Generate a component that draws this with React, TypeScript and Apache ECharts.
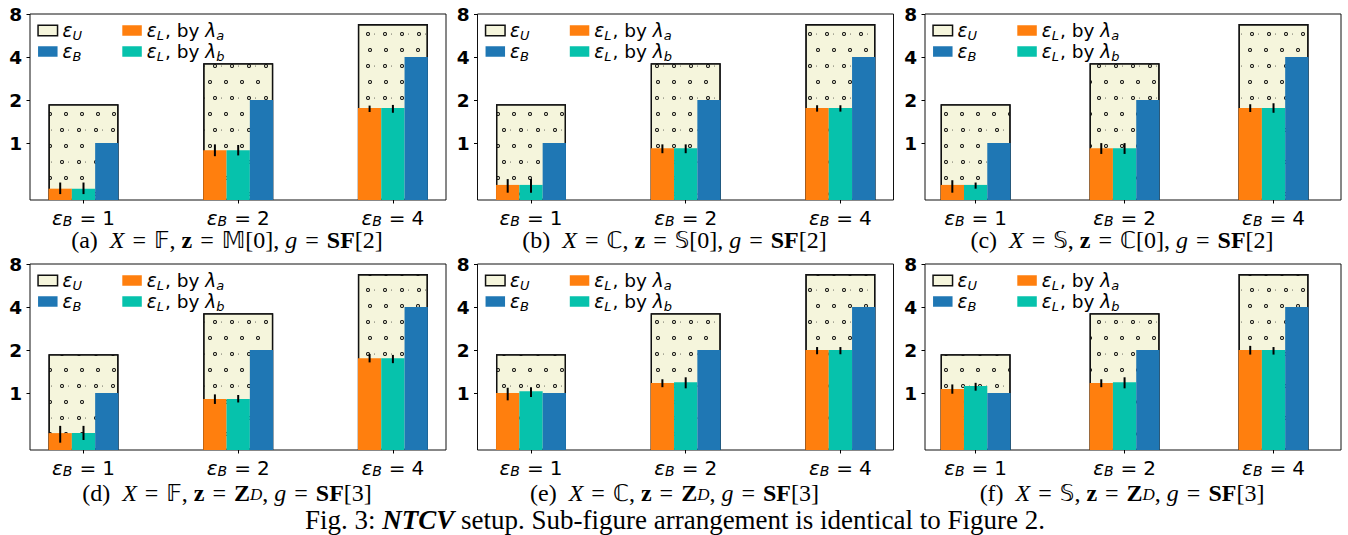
import React, { useEffect, useRef } from 'react';
import * as echarts from 'echarts';

// ---------------- data ----------------
const categories = ['1', '2', '4'];
const yTickValues = [1, 2, 4, 8];
const epsU = [1.87, 3.62, 6.8];
const epsB = [1, 2, 4];

const lamA_a = [0.48, 0.89, 1.76];
const lamB_a = [0.48, 0.89, 1.76];
const errA_a = [[0.44, 0.53], [0.81, 0.98], [1.65, 1.83]];
const errB_a = [[0.44, 0.53], [0.82, 0.97], [1.63, 1.85]];

const lamA_b = [0.51, 0.92, 1.76];
const lamB_b = [0.51, 0.92, 1.76];
const errA_b = [[0.45, 0.56], [0.85, 0.98], [1.66, 1.84]];
const errB_b = [[0.45, 0.56], [0.85, 0.98], [1.66, 1.84]];

const lamA_c = [0.51, 0.92, 1.76];
const lamB_c = [0.51, 0.92, 1.76];
const errA_c = [[0.45, 0.55], [0.84, 1.0], [1.65, 1.87]];
const errB_c = [[0.48, 0.53], [0.84, 1.0], [1.63, 1.9]];

const lamA_d = [0.525, 0.91, 1.75];
const lamB_d = [0.525, 0.91, 1.75];
const errA_d = [[0.45, 0.59], [0.84, 0.98], [1.64, 1.88]];
const errB_d = [[0.47, 0.59], [0.86, 0.97], [1.62, 1.85]];

const lamA_e = [1.0, 1.175, 2.0];
const lamB_e = [1.03, 1.19, 2.0];
const errA_e = [[0.89, 1.09], [1.1, 1.25], [1.87, 2.1]];
const errB_e = [[0.94, 1.1], [1.08, 1.29], [1.87, 2.1]];

const lamA_f = [1.07, 1.175, 2.0];
const lamB_f = [1.12, 1.19, 2.0];
const errA_f = [[0.99, 1.15], [1.1, 1.25], [1.86, 2.14]];
const errB_f = [[1.04, 1.18], [1.08, 1.29], [1.86, 2.1]];

const panelLetters = ['a', 'b', 'c', 'd', 'e', 'f'];
const panelX = ['𝔽', 'ℂ', '𝕊', '𝔽', 'ℂ', '𝕊'];
const panelZ = ['𝕄', '𝕊', 'ℂ', 'Z', 'Z', 'Z'];
const panelSF = ['2', '2', '2', '3', '3', '3'];

// ---------------- style ----------------
const C_U = '#f5f5dc';
const C_A = '#ff7f0e';
const C_B = '#06c2ac';
const C_EB = '#1f77b4';
const SANS = 'DejaVu Sans';
const SERIF = 'Liberation Serif';

const frameLefts = [30, 477.5, 925];
const frameTops = [14, 264];
const FRAME_W = 416;
const FRAME_H = 186;
const CAT_OFF = 53.5;
const CAT_STEP = 154.7;
const BW = 23.3;

const axisRich: any = {
  m: { fontFamily: SANS, fontSize: 20, fontStyle: 'italic', lineHeight: 21, color: '#000' },
  s: { fontFamily: SANS, fontSize: 14, fontStyle: 'italic', lineHeight: 12, verticalAlign: 'bottom', color: '#000' },
  eq: { fontFamily: SANS, fontSize: 20, lineHeight: 21, color: '#000', padding: [0, 6, 0, 7] },
  n: { fontFamily: SANS, fontSize: 20, lineHeight: 21, color: '#000' },
};

const legRich: any = {
  m: { fontFamily: SANS, fontSize: 18.5, fontStyle: 'italic', lineHeight: 22, color: '#000' },
  s: { fontFamily: SANS, fontSize: 13, fontStyle: 'italic', lineHeight: 12, verticalAlign: 'bottom', color: '#000', padding: [0, 1, 0, 0] },
  n: { fontFamily: SANS, fontSize: 18.5, lineHeight: 22, color: '#000' },
};

const CAP = 24;
const CAP_LH = 21;
const serifRich: any = {
  t: { fontFamily: SERIF, fontSize: CAP, lineHeight: CAP_LH, color: '#000' },
  i: { fontFamily: SERIF, fontSize: CAP, lineHeight: CAP_LH, fontStyle: 'italic', color: '#000' },
  eq: { fontFamily: SERIF, fontSize: CAP, lineHeight: CAP_LH, color: '#000', padding: [0, 8, 0, 8] },
  b: { fontFamily: SERIF, fontSize: CAP, lineHeight: CAP_LH, fontWeight: 'bold', color: '#000' },
  bs: { fontFamily: SERIF, fontSize: 17, fontStyle: 'italic', verticalAlign: 'bottom', lineHeight: 12, color: '#000' },
  d: { fontFamily: SANS, fontSize: CAP - 1, lineHeight: CAP_LH, color: '#000' },
  bi: { fontFamily: SERIF, fontSize: 27, lineHeight: 25, fontWeight: 'bold', fontStyle: 'italic', color: '#000' },
  big: { fontFamily: SERIF, fontSize: 27, lineHeight: 25, color: '#000' },
};

const legendNames: Record<string, string> = {
  eU: '{m|ε}{s|U}',
  eB: '{m|ε}{s|B}',
  eLa: '{m|ε}{s|L}{n|, by }{m|λ}{s|a}',
  eLb: '{m|ε}{s|L}{n|, by }{m|λ}{s|b}',
};

const ringPath =
  'path://M5 0A5 5 0 1 0 5 10A5 5 0 1 0 5 0ZM5 2.3A2.7 2.7 0 1 1 5 7.7A2.7 2.7 0 1 1 5 2.3Z';

const panels = [
  { la: lamA_a, lb: lamB_a, ea: errA_a, eb: errB_a },
  { la: lamA_b, lb: lamB_b, ea: errA_b, eb: errB_b },
  { la: lamA_c, lb: lamB_c, ea: errA_c, eb: errB_c },
  { la: lamA_d, lb: lamB_d, ea: errA_d, eb: errB_d },
  { la: lamA_e, lb: lamB_e, ea: errA_e, eb: errB_e },
  { la: lamA_f, lb: lamB_f, ea: errA_f, eb: errB_f },
];

function captionText(i: number) {
  const z = panelZ[i] === 'Z' ? '{b|Z}{bs|D}' : `{d|${panelZ[i]}}{t|[0]}`;
  return `{t|(${panelLetters[i]})  }{i|X}{eq|=}{d|${panelX[i]}}{t|, }{b|z}{eq|=}${z}{t|, }{i|g}{eq|=}{b|SF}{t|[${panelSF[i]}]}`;
}

function buildOption() {
  const grid: any[] = [];
  const xAxis: any[] = [];
  const yAxis: any[] = [];
  const series: any[] = [];
  const legend: any[] = [];
  const graphic: any[] = [];

  panels.forEach((p, i) => {
    const row = Math.floor(i / 3);
    const col = i % 3;
    const L = frameLefts[col];
    const T = frameTops[row];

    const gFrame = grid.length;
    grid.push({ left: L, top: T, width: FRAME_W, height: FRAME_H, show: true, borderColor: '#111', borderWidth: 1, backgroundColor: 'transparent' });
    const gBars = grid.length;
    grid.push({ left: L + CAT_OFF - CAT_STEP / 2, top: T, width: CAT_STEP * 3, height: FRAME_H });

    // frame axes
    xAxis.push({ gridIndex: gFrame, type: 'category', data: categories, show: false });
    yAxis.push({
      gridIndex: gFrame, type: 'log', logBase: 2, min: 0.4, max: 8,
      axisLine: { show: false },
      axisTick: { show: true, length: 3.5, lineStyle: { color: '#000', width: 1 }, customValues: yTickValues },
      axisLabel: {
        customValues: yTickValues, margin: 8, color: '#000', fontFamily: SANS, fontWeight: 'bold', fontSize: 18.5,
      },
      splitLine: { show: false },
      minorTick: { show: false },
    });

    // bar axes
    const xMain = xAxis.length;
    xAxis.push({
      gridIndex: gBars, type: 'category', data: categories, position: 'bottom',
      axisLine: { show: false },
      axisTick: { show: true, alignWithLabel: true, length: 3.5, lineStyle: { color: '#000', width: 1 } },
      axisLabel: {
        margin: 7,
        formatter: (v: string) => `{m|ε}{s|B}{eq|=}{n|${v}}`,
        rich: axisRich,
      },
      splitLine: { show: false },
    });
    const xOver = xAxis.length;
    xAxis.push({ gridIndex: gBars, type: 'category', data: categories, show: false });
    const yBars = yAxis.length;
    yAxis.push({ gridIndex: gBars, type: 'log', logBase: 2, min: 0.4, max: 8, startValue: 0.4, show: false, splitLine: { show: false } });

    series.push({
      name: 'eU', type: 'bar', xAxisIndex: xOver, yAxisIndex: yBars, data: epsU, barWidth: 70,
      itemStyle: {
        color: C_U, borderColor: '#111', borderWidth: 1.3,
        decal: {
          symbol: ringPath, symbolSize: 1, color: '#000', symbolKeepAspect: true,
          dashArrayX: [[4, 11.7], [0.01, 7.84, 4, 3.85]],
          dashArrayY: [4, 11.2],
        },
      },
      emphasis: { disabled: true },
    });
    series.push({ name: 'eLa', type: 'bar', xAxisIndex: xMain, yAxisIndex: yBars, data: p.la, barWidth: BW, barGap: '0%', itemStyle: { color: C_A }, emphasis: { disabled: true } });
    series.push({ name: 'eLb', type: 'bar', xAxisIndex: xMain, yAxisIndex: yBars, data: p.lb, barWidth: BW, barGap: '0%', itemStyle: { color: C_B }, emphasis: { disabled: true } });
    series.push({ name: 'eB', type: 'bar', xAxisIndex: xMain, yAxisIndex: yBars, data: epsB, barWidth: BW, barGap: '0%', itemStyle: { color: C_EB }, emphasis: { disabled: true } });

    const mkErr = (errs: number[][], off: number) => ({
      type: 'custom', xAxisIndex: xMain, yAxisIndex: yBars, z: 5,
      data: errs.map((e, k) => [k, e[0], e[1]]),
      encode: { x: 0, y: [1, 2] },
      renderItem: (_params: any, api: any) => {
        const k = api.value(0);
        const p1 = api.coord([k, api.value(1)]);
        const p2 = api.coord([k, api.value(2)]);
        const x = p1[0] + off;
        return { type: 'line', shape: { x1: x, y1: p1[1], x2: x, y2: p2[1] }, style: { stroke: '#000', lineWidth: 2 } };
      },
    });
    series.push(mkErr(p.ea, -BW));
    series.push(mkErr(p.eb, 0));

    const legendCommon = {
      orient: 'vertical', itemGap: 0.5, itemWidth: 19.5, itemHeight: 10.5, icon: 'rect', padding: 0,
      selectedMode: false, formatter: (n: string) => legendNames[n],
      textStyle: { rich: legRich, fontFamily: SANS, fontSize: 18.5 },
      top: T + 7,
    };
    legend.push({ ...legendCommon, left: L + 7.3, data: [{ name: 'eU', itemStyle: { decal: 'none', borderWidth: 1.5 } }, 'eB'] });
    legend.push({ ...legendCommon, left: L + 92.3, data: ['eLa', 'eLb'] });

    graphic.push({
      type: 'text', x: L + FRAME_W / 2 - 11, y: T + FRAME_H + (row === 0 ? 40 : 42.5),
      style: { text: captionText(i), rich: serifRich, align: 'center', verticalAlign: 'middle' },
    });
  });

  graphic.push({
    type: 'text', x: 675, y: 520,
    style: {
      text: '{big|Fig. 3: }{bi|NTCV}{big| setup. Sub-figure arrangement is identical to Figure 2.}',
      rich: serifRich, align: 'center', verticalAlign: 'middle',
    },
  });

  return {
    animation: false,
    backgroundColor: '#fff',
    grid, xAxis, yAxis, series, legend, graphic,
  };
}

export default function App() {
  const ref = useRef<HTMLDivElement>(null);
  useEffect(() => {
    if (!ref.current) return;
    const chart = echarts.init(ref.current, undefined, { renderer: 'svg' });
    chart.setOption(buildOption() as any);
    return () => chart.dispose();
  }, []);
  return <div ref={ref} style={{ position: 'fixed', left: 0, top: 0, width: 1348, height: 535 }} />;
}
